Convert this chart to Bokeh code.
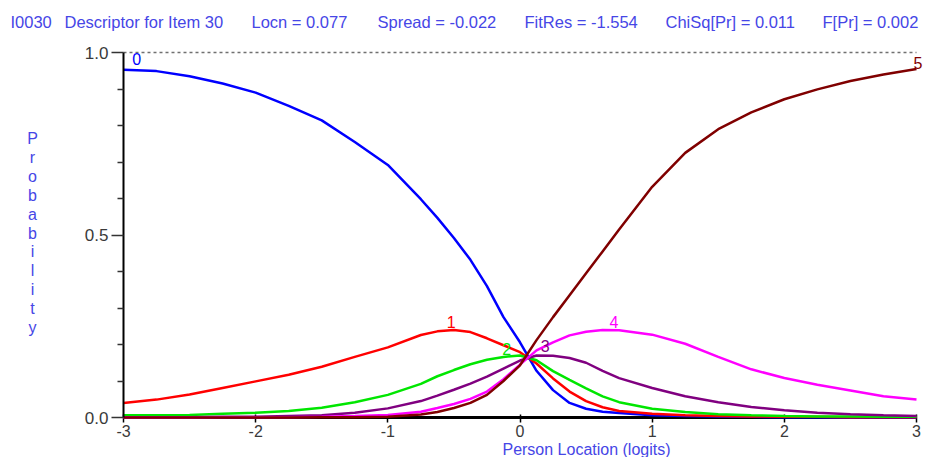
from bokeh.plotting import figure
from bokeh.models import Range1d, FixedTicker, Label, ColumnDataSource, LinearAxis
from bokeh.core.properties import value
from bokeh.embed import file_html
from bokeh.resources import INLINE

# ---- data ----
x = [-3, -2.75, -2.5, -2.25, -2, -1.75, -1.5, -1.25, -1, -0.75, -0.625, -0.5, -0.375,
     -0.25, -0.125, 0, 0.125, 0.25, 0.375, 0.5, 0.625, 0.75, 1, 1.25, 1.5, 1.75, 2,
     2.25, 2.5, 2.75, 3]
cat0 = [0.953, 0.949, 0.935, 0.915, 0.890, 0.854, 0.814, 0.755, 0.692, 0.598, 0.547, 0.492,
        0.432, 0.360, 0.275, 0.206, 0.128, 0.075, 0.040, 0.024, 0.016, 0.012, 0.006, 0.004,
        0.003, 0.002, 0.001, 0.001, 0.0, 0.0, 0.0]
cat1 = [0.040, 0.049, 0.063, 0.081, 0.099, 0.117, 0.139, 0.166, 0.192, 0.226, 0.236, 0.240,
        0.234, 0.217, 0.198, 0.179, 0.148, 0.107, 0.071, 0.045, 0.028, 0.018, 0.010, 0.006,
        0.004, 0.003, 0.002, 0.002, 0.001, 0.001, 0.001]
cat2 = [0.006, 0.006, 0.007, 0.010, 0.013, 0.018, 0.027, 0.042, 0.062, 0.092, 0.113, 0.130,
        0.146, 0.158, 0.166, 0.170, 0.157, 0.127, 0.103, 0.080, 0.058, 0.042, 0.024, 0.015,
        0.009, 0.006, 0.004, 0.003, 0.003, 0.002, 0.002]
cat3 = [0.001, 0.001, 0.001, 0.002, 0.002, 0.004, 0.006, 0.013, 0.025, 0.045, 0.060, 0.076,
        0.093, 0.112, 0.134, 0.156, 0.170, 0.169, 0.163, 0.150, 0.128, 0.108, 0.081, 0.058,
        0.042, 0.029, 0.020, 0.013, 0.009, 0.006, 0.004]
cat4 = [0.0, 0.0, 0.0, 0.001, 0.001, 0.001, 0.002, 0.004, 0.007, 0.016, 0.026, 0.037,
        0.051, 0.071, 0.105, 0.145, 0.184, 0.206, 0.225, 0.235, 0.240, 0.239, 0.227, 0.202,
        0.166, 0.132, 0.108, 0.090, 0.074, 0.058, 0.049]
cat5 = [0.0, 0.0, 0.0, 0.0, 0.0, 0.0, 0.001, 0.001, 0.002, 0.008, 0.015, 0.026,
        0.040, 0.062, 0.100, 0.143, 0.212, 0.275, 0.335, 0.395, 0.455, 0.515, 0.632, 0.725,
        0.790, 0.836, 0.872, 0.899, 0.922, 0.940, 0.955]

categories = ["0", "1", "2", "3", "4", "5"]
cat_colors = ["#0000ff", "#ff0000", "#00e600", "#800080", "#ff00ff", "#800000"]
cat_label_x = [-2.90, -0.52, -0.10, 0.19, 0.71, 3.045]
cat_label_y = [0.981, 0.262, 0.189, 0.197, 0.262, 0.970]
cat_label_align = ["center", "center", "center", "center", "center", "right"]

x_ticks = [-3, -2, -1, 0, 1, 2, 3]
x_tick_labels = {-3: "-3", -2: "-2", -1: "-1", 0: "0", 1: "1", 2: "2", 3: "3"}
y_ticks = [0.0, 0.5, 1.0]
y_minor = [0.1, 0.2, 0.3, 0.4, 0.6, 0.7, 0.8, 0.9]
y_tick_labels = {0.0: "0.0", 0.5: "0.5", 1.0: "1.0"}

title_parts = ["I0030", "Descriptor for Item 30", "Locn = 0.077", "Spread = -0.022",
               "FitRes = -1.554", "ChiSq[Pr] = 0.011", "F[Pr] = 0.002"]
title_px = [10, 64, 251, 377, 524, 665, 822]
y_axis_title = "Probability"
x_axis_title = "Person Location (logits)"

FONT = "Liberation Sans"
BLUE_TXT = "#4646e6"
GRAY_TXT = "#3a3a3a"

# canvas geometry: the frame fills the canvas, axes are drawn at fixed locations
W, H = 923, 457
X_LEFT_PX, X_RIGHT_PX = 123, 916      # canvas px of x = -3 and x = 3
Y_TOP_PX, Y_BOT_PX = 52, 417          # canvas px of y = 1 and y = 0
xmin, xmax = x_ticks[0], x_ticks[-1]
ymin, ymax = y_ticks[0], y_ticks[-1]
kx = (X_RIGHT_PX - X_LEFT_PX) / (xmax - xmin)
ky = (Y_BOT_PX - Y_TOP_PX) / (ymax - ymin)
x_start = xmin - X_LEFT_PX / kx
x_end = xmax + (W - X_RIGHT_PX) / kx
y_end = ymax + Y_TOP_PX / ky
y_start = ymin - (H - Y_BOT_PX) / ky


def px_to_data(px, py):
    return x_start + px / kx, y_end - py / ky


p = figure(width=W, height=H, output_backend="svg", toolbar_location=None,
           x_range=Range1d(x_start, x_end), y_range=Range1d(y_start, y_end),
           x_axis_location=None, y_axis_location=None, min_border=0)
p.outline_line_color = None
p.background_fill_color = "white"
p.border_fill_color = "white"
p.grid.visible = False

# axes drawn at fixed places
xa = LinearAxis(fixed_location=ymin, bounds=(xmin, xmax), ticker=FixedTicker(ticks=x_ticks))
xa.major_label_overrides = x_tick_labels
xa.axis_line_width = 3
xa.axis_line_color = "black"
xa.major_tick_in = 3
xa.major_tick_out = 5
xa.major_tick_line_color = "black"
xa.major_tick_line_width = 1.5
xa.minor_tick_line_color = None
xa.major_label_text_font = FONT
xa.major_label_text_font_size = "16px"
xa.major_label_text_color = GRAY_TXT
xa.major_label_standoff = 2
xa.level = "underlay"
p.add_layout(xa, "below")

ya = LinearAxis(fixed_location=xmin, bounds=(ymin, ymax),
                ticker=FixedTicker(ticks=y_ticks, minor_ticks=y_minor))
ya.major_label_overrides = y_tick_labels
ya.axis_line_width = 2
ya.axis_line_color = "black"
ya.major_tick_in = 0
ya.major_tick_out = 12
ya.minor_tick_in = 0
ya.minor_tick_out = 6
ya.major_tick_line_color = "#333333"
ya.minor_tick_line_color = "#333333"
ya.major_tick_line_width = 1.5
ya.minor_tick_line_width = 1.5
ya.major_label_text_font = FONT
ya.major_label_text_font_size = "17px"
ya.major_label_text_color = GRAY_TXT
ya.major_label_standoff = 3
p.add_layout(ya, "left")

# dashed reference at probability 1.0
p.line(x=[xmin, xmax], y=[ymax, ymax], line_color="#707070", line_dash="3 3", line_width=1.5)

src = ColumnDataSource(dict(x=x, c0=cat0, c1=cat1, c2=cat2, c3=cat3, c4=cat4, c5=cat5))
for i, col in enumerate(cat_colors):
    p.line("x", f"c{i}", source=src, line_color=col, line_width=2.5)

p.text(x=cat_label_x, y=cat_label_y, text=categories, text_color=cat_colors,
       text_font=value(FONT), text_font_size="16px", text_align=cat_label_align,
       text_baseline="middle")

# title pieces
for t, px in zip(title_parts, title_px):
    dx, dy = px_to_data(px, 21)
    p.add_layout(Label(x=dx, y=dy, text=t, text_color=BLUE_TXT, text_font=FONT,
                       text_font_size="16.5px", text_baseline="middle", text_align="left"))

# stacked y-axis title
for i, ch in enumerate(y_axis_title):
    dx, dy = px_to_data(32, 138 + i * 18.9)
    p.add_layout(Label(x=dx, y=dy, text=ch, text_color=BLUE_TXT, text_font=FONT,
                       text_font_size="16px", text_baseline="middle", text_align="center"))

dx, dy = px_to_data(586, 449)
p.add_layout(Label(x=dx, y=dy, text=x_axis_title, text_color=BLUE_TXT, text_font=FONT,
                   text_font_size="16px", text_baseline="middle", text_align="center"))

open("out.html", "w").write(file_html(p, INLINE))
